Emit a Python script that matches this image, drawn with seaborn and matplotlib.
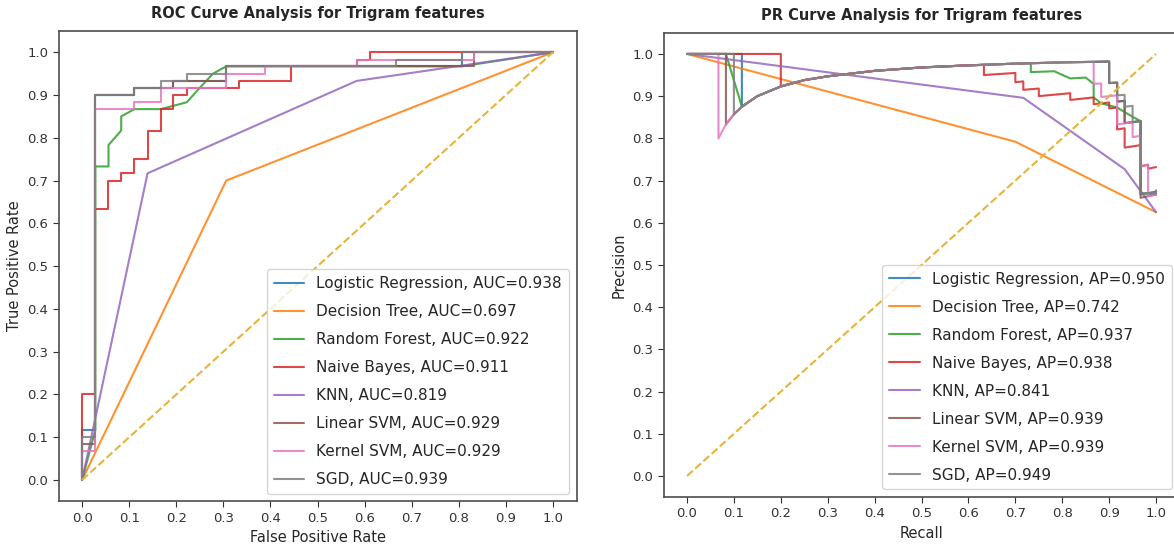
import numpy as np
import pandas as pd
import seaborn as sns
import matplotlib.pyplot as plt

# model names and scores (read from the legends)
models = ["Logistic Regression", "Decision Tree", "Random Forest", "Naive Bayes",
          "KNN", "Linear SVM", "Kernel SVM", "SGD"]
auc_scores = [0.938, 0.697, 0.922, 0.911, 0.819, 0.929, 0.929, 0.939]
ap_scores = [0.950, 0.742, 0.937, 0.938, 0.841, 0.939, 0.939, 0.949]

# ROC curves (false positive rate, true positive rate)
lr_fpr = [0, 0, 0.028, 0.028, 0.111, 0.111, 0.194, 0.194, 0.306, 0.306, 0.806, 0.806, 1.0]
lr_tpr = [0, 0.117, 0.117, 0.9, 0.9, 0.917, 0.917, 0.933, 0.933, 0.967, 0.967, 1.0, 1.0]
dt_fpr = [0, 0.306, 1.0]
dt_tpr = [0, 0.7, 1.0]
rf_fpr = [0, 0.028, 0.028, 0.056, 0.056, 0.083, 0.083, 0.111, 0.167, 0.222, 0.25, 0.278,
          0.306, 0.806, 1.0]
rf_tpr = [0, 0.117, 0.733, 0.733, 0.783, 0.817, 0.85, 0.867, 0.867, 0.883, 0.917, 0.95,
          0.967, 0.967, 1.0]
nb_fpr = [0, 0, 0.028, 0.028, 0.056, 0.056, 0.083, 0.083, 0.111, 0.111, 0.139, 0.139,
          0.167, 0.167, 0.194, 0.194, 0.222, 0.222, 0.333, 0.333, 0.444, 0.444, 0.583,
          0.583, 0.611, 0.611, 1.0]
nb_tpr = [0, 0.2, 0.2, 0.633, 0.633, 0.7, 0.7, 0.717, 0.717, 0.75, 0.75, 0.817, 0.817,
          0.867, 0.867, 0.9, 0.9, 0.917, 0.917, 0.933, 0.933, 0.967, 0.967, 0.983, 0.983,
          1.0, 1.0]
knn_fpr = [0, 0.139, 0.583, 1.0]
knn_tpr = [0, 0.717, 0.933, 1.0]
lsvm_fpr = [0, 0, 0.028, 0.028, 0.111, 0.111, 0.194, 0.194, 0.306, 0.306, 0.833, 0.833, 1.0]
lsvm_tpr = [0, 0.083, 0.083, 0.9, 0.9, 0.917, 0.917, 0.933, 0.933, 0.967, 0.967, 1.0, 1.0]
ksvm_fpr = [0, 0, 0.028, 0.028, 0.111, 0.111, 0.167, 0.167, 0.306, 0.306, 0.389, 0.389,
            0.583, 0.583, 0.833, 0.833, 1.0]
ksvm_tpr = [0, 0.067, 0.067, 0.867, 0.867, 0.883, 0.883, 0.917, 0.917, 0.95, 0.95, 0.967,
            0.967, 0.983, 0.983, 1.0, 1.0]
sgd_fpr = [0, 0, 0.028, 0.028, 0.111, 0.111, 0.167, 0.167, 0.222, 0.222, 0.306, 0.306,
           0.667, 0.667, 0.806, 0.806, 1.0]
sgd_tpr = [0, 0.1, 0.1, 0.9, 0.9, 0.917, 0.917, 0.933, 0.933, 0.95, 0.95, 0.967, 0.967,
           0.983, 0.983, 1.0, 1.0]

# PR curves (recall, precision)
lr_rec = [0, 0.117, 0.117, 0.15, 0.2, 0.25, 0.3, 0.4, 0.5, 0.6, 0.7, 0.8, 0.9, 0.9, 0.917,
          0.917, 0.933, 0.933, 0.967, 0.967, 1.0]
lr_prec = [1.0, 1.0, 0.875, 0.9, 0.923, 0.938, 0.947, 0.96, 0.968, 0.973, 0.977, 0.98, 0.982,
           0.931, 0.932, 0.887, 0.889, 0.836, 0.841, 0.667, 0.674]
dt_rec = [0, 0.7, 1.0]
dt_prec = [1.0, 0.792, 0.625]
rf_rec = [0, 0.083, 0.117, 0.15, 0.2, 0.25, 0.3, 0.4, 0.5, 0.6, 0.7, 0.733, 0.733, 0.783,
          0.817, 0.85, 0.867, 0.867, 0.883, 0.917, 0.95, 0.967, 0.967, 1.0]
rf_prec = [1.0, 1.0, 0.875, 0.9, 0.923, 0.938, 0.947, 0.96, 0.968, 0.973, 0.977, 0.978,
           0.957, 0.959, 0.942, 0.944, 0.929, 0.897, 0.883, 0.873, 0.851, 0.841, 0.67, 0.667]
nb_rec = [0, 0.2, 0.2, 0.25, 0.3, 0.4, 0.5, 0.6, 0.633, 0.633, 0.7, 0.7, 0.717, 0.717, 0.75,
          0.75, 0.817, 0.817, 0.867, 0.867, 0.9, 0.9, 0.917, 0.917, 0.933, 0.933, 0.967,
          0.967, 0.983, 0.983, 1.0]
nb_prec = [1.0, 1.0, 0.923, 0.938, 0.947, 0.96, 0.968, 0.973, 0.974, 0.95, 0.955, 0.933,
           0.935, 0.915, 0.918, 0.9, 0.907, 0.891, 0.897, 0.881, 0.885, 0.871, 0.873, 0.821,
           0.824, 0.778, 0.784, 0.734, 0.737, 0.728, 0.732]
knn_rec = [0, 0.717, 0.933, 1.0]
knn_prec = [1.0, 0.896, 0.727, 0.625]
lsvm_rec = [0, 0.083, 0.083, 0.1, 0.117, 0.15, 0.2, 0.25, 0.3, 0.4, 0.5, 0.6, 0.7, 0.8, 0.9,
            0.9, 0.917, 0.917, 0.933, 0.933, 0.967, 0.967, 1.0]
lsvm_prec = [1.0, 1.0, 0.833, 0.857, 0.875, 0.9, 0.923, 0.938, 0.947, 0.96, 0.968, 0.973,
             0.977, 0.98, 0.982, 0.931, 0.932, 0.887, 0.889, 0.836, 0.841, 0.659, 0.667]
ksvm_rec = [0, 0.067, 0.067, 0.083, 0.1, 0.117, 0.15, 0.2, 0.25, 0.3, 0.4, 0.5, 0.6, 0.7,
            0.8, 0.867, 0.867, 0.883, 0.883, 0.917, 0.917, 0.95, 0.95, 0.967, 0.967, 0.983,
            0.983, 1.0]
ksvm_prec = [1.0, 1.0, 0.8, 0.833, 0.857, 0.875, 0.9, 0.923, 0.938, 0.947, 0.96, 0.968,
             0.973, 0.977, 0.98, 0.981, 0.929, 0.93, 0.898, 0.902, 0.833, 0.838, 0.803,
             0.806, 0.734, 0.738, 0.663, 0.667]
sgd_rec = [0, 0.1, 0.1, 0.117, 0.15, 0.2, 0.25, 0.3, 0.4, 0.5, 0.6, 0.7, 0.8, 0.9, 0.9,
           0.917, 0.917, 0.933, 0.933, 0.95, 0.95, 0.967, 0.967, 1.0, 1.0]
sgd_prec = [1.0, 1.0, 0.857, 0.875, 0.9, 0.923, 0.938, 0.947, 0.96, 0.968, 0.973, 0.977,
            0.98, 0.982, 0.931, 0.932, 0.902, 0.903, 0.875, 0.877, 0.838, 0.841, 0.67,
            0.67, 0.677]

roc_curves = [(lr_fpr, lr_tpr), (dt_fpr, dt_tpr), (rf_fpr, rf_tpr), (nb_fpr, nb_tpr),
              (knn_fpr, knn_tpr), (lsvm_fpr, lsvm_tpr), (ksvm_fpr, ksvm_tpr), (sgd_fpr, sgd_tpr)]
pr_curves = [(lr_rec, lr_prec), (dt_rec, dt_prec), (rf_rec, rf_prec), (nb_rec, nb_prec),
             (knn_rec, knn_prec), (lsvm_rec, lsvm_prec), (ksvm_rec, ksvm_prec), (sgd_rec, sgd_prec)]

sns.set_style("ticks")
plt.rcParams["font.family"] = ["DejaVu Sans"]
colors = sns.color_palette("tab10", 8)

fig = plt.figure(figsize=(11.74, 5.52), dpi=100)
ax1 = fig.add_axes([0.0499, 0.0917, 0.4412, 0.8524])
ax2 = fig.add_axes([0.5652, 0.0995, 0.4395, 0.841])

for i, (x, y) in enumerate(roc_curves):
    d = pd.DataFrame({"x": x, "y": y})
    sns.lineplot(data=d, x="x", y="y", sort=False, estimator=None, ax=ax1, color=colors[i],
                 linewidth=1.5, alpha=0.85, label=f"{models[i]}, AUC={auc_scores[i]:.3f}")
for i, (x, y) in enumerate(pr_curves):
    d = pd.DataFrame({"x": x, "y": y})
    sns.lineplot(data=d, x="x", y="y", sort=False, estimator=None, ax=ax2, color=colors[i],
                 linewidth=1.5, alpha=0.85, label=f"{models[i]}, AP={ap_scores[i]:.3f}")

ticks = np.round(np.arange(0, 1.01, 0.1), 1)
for ax in (ax1, ax2):
    ax.plot([0, 1], [0, 1], linestyle="--", color="#e6b43c", linewidth=1.5)
    ax.set_xlim(-0.05, 1.05)
    ax.set_ylim(-0.05, 1.05)
    ax.set_xticks(ticks)
    ax.set_yticks(ticks)
    ax.tick_params(labelsize=9.5, length=4, colors="0.2")
    for s in ax.spines.values():
        s.set_color("0.3")
        s.set_linewidth(1.2)
    leg = ax.legend(loc="lower right", fontsize=11, handlelength=2.0,
                    labelspacing=0.85, borderpad=0.45, framealpha=0.8)
    for line in leg.get_lines():
        line.set_alpha(0.85)

ax1.set_title("ROC Curve Analysis for Trigram features", fontsize=10.5, fontweight="bold", pad=9)
ax1.set_xlabel("False Positive Rate", fontsize=10.5)
ax1.set_ylabel("True Positive Rate", fontsize=10.5)
ax2.set_title("PR Curve Analysis for Trigram features", fontsize=10.5, fontweight="bold", pad=9)
ax2.set_xlabel("Recall", fontsize=10.5)
ax2.set_ylabel("Precision", fontsize=10.5)

fig.savefig("out.png", dpi=100)
